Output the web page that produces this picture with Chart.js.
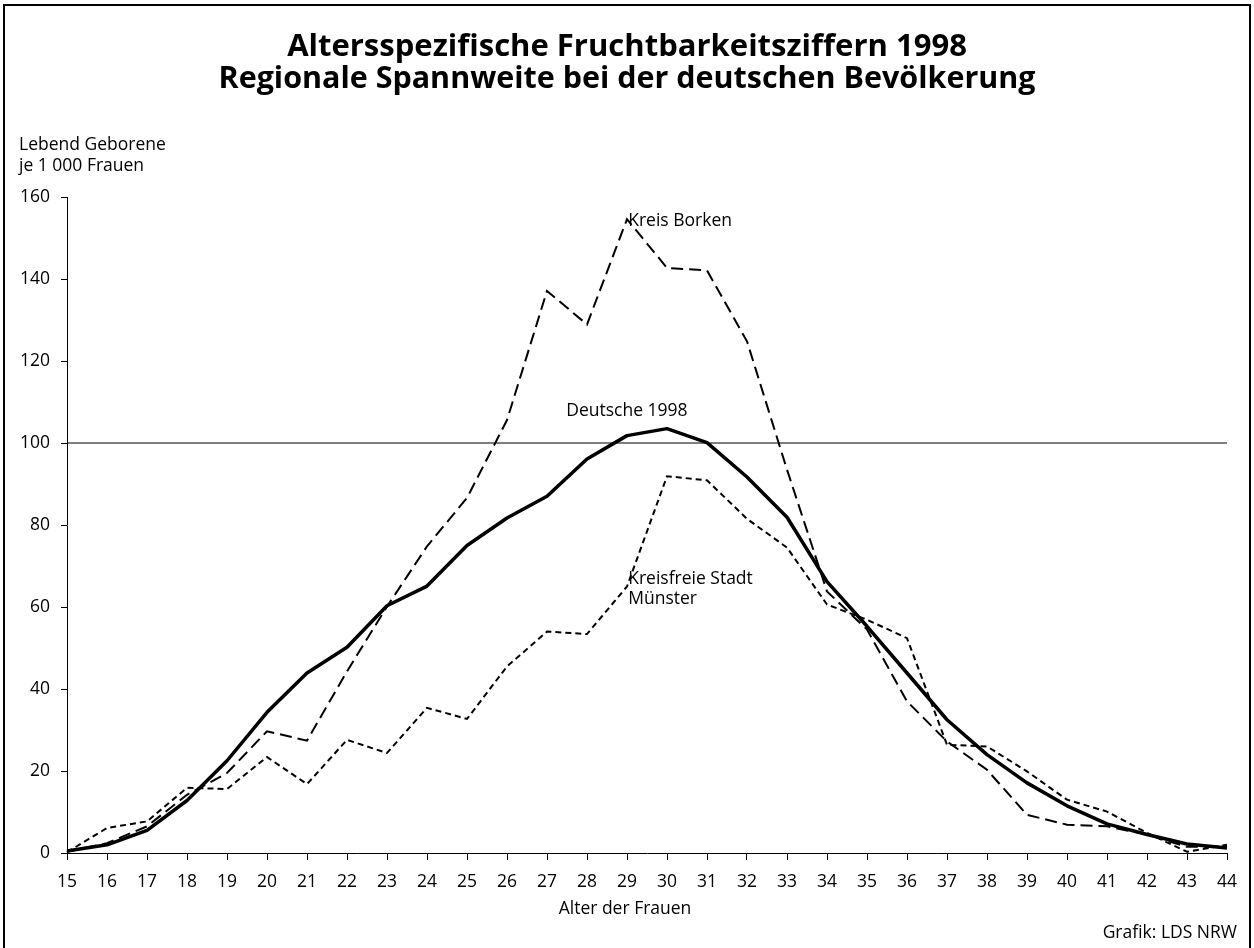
<!DOCTYPE html>
<html>
<head>
<meta charset="utf-8">
<script src="https://cdn.jsdelivr.net/npm/chart.js@4/dist/chart.umd.min.js"></script>
<style>
  html, body { margin: 0; padding: 0; background: #fff; }
  #wrap { width: 1254px; height: 948px; }
</style>
</head>
<body>
<div id="wrap"><canvas id="c" width="1254" height="948"></canvas></div>
<script>
// Alter der Frauen (15 bis 44)
const ages = ['15','16','17','18','19','20','21','22','23','24','25','26','27','28','29',
              '30','31','32','33','34','35','36','37','38','39','40','41','42','43','44'];

// Lebend Geborene je 1 000 Frauen
const deutsche = [0.5, 2.0, 5.5, 12.8, 22.5, 34.3, 43.9, 50.2, 60.3, 65.1, 75.0, 81.7, 87.0, 96.1, 101.8,
                  103.5, 100.1, 91.7, 81.9, 66.2, 55.3, 43.9, 32.5, 24.0, 17.1, 11.5, 7.1, 4.5, 2.2, 1.2];
const borken = [0.3, 2.4, 6.5, 14.2, 19.5, 29.7, 27.4, 44.3, 60.1, 74.8, 86.6, 105.6, 137.1, 128.9, 154.6,
                142.7, 142.1, 124.8, 93.5, 63.8, 54.5, 37.0, 27.2, 20.3, 9.3, 6.9, 6.5, 4.5, 1.5, 1.6];
const muenster = [0.2, 6.1, 7.7, 15.9, 15.6, 23.4, 16.8, 27.6, 24.4, 35.4, 32.7, 45.5, 54.0, 53.4, 65.0,
                  91.9, 90.9, 81.5, 74.5, 60.6, 56.9, 52.4, 26.4, 26.0, 19.9, 13.0, 10.1, 4.9, 0.3, 2.0];
const referenz = ages.map(() => 100);

const yTicks = [0, 20, 40, 60, 80, 100, 120, 140, 160];

const FONT = '"Open Sans", "Noto Sans", sans-serif';
const TXT = 17.5;

// Beschriftungen im Diagramm: [Text, Altersindex, Wert]
const labels = [
  ['Kreis Borken', 14.03, 153],
  ['Deutsche 1998', 12.48, 106.7],
  ['Kreisfreie Stadt', 14.03, 65.7],
  ['Münster', 14.03, 60.8]
];

// Schriftgroesse so waehlen, dass der Text eine bestimmte Breite hat
function fitFont(ctx, text, width, weight) {
  ctx.font = weight + ' 28px ' + FONT;
  const w = ctx.measureText(text).width;
  return weight + ' ' + (28 * width / w).toFixed(2) + 'px ' + FONT;
}

const textPlugin = {
  id: 'texte',
  afterDraw(chart) {
    const ctx = chart.ctx;
    const xs = chart.scales.x, ys = chart.scales.y;
    ctx.save();
    ctx.fillStyle = '#000';

    // Titel
    ctx.textAlign = 'center';
    ctx.textBaseline = 'alphabetic';
    const t1 = 'Altersspezifische Fruchtbarkeitsziffern 1998';
    const t2 = 'Regionale Spannweite bei der deutschen Bevölkerung';
    ctx.font = fitFont(ctx, t1, 680, 'bold');
    ctx.fillText(t1, 627, 56);
    ctx.font = fitFont(ctx, t2, 817, 'bold');
    ctx.fillText(t2, 627, 88);

    // Achsentitel
    ctx.font = TXT + 'px ' + FONT;
    ctx.textAlign = 'left';
    ctx.fillText('Lebend Geborene', 19, 150);
    ctx.fillText('je 1 000 Frauen', 19, 171);
    ctx.textAlign = 'center';
    ctx.fillText('Alter der Frauen', 625, 914);
    ctx.textAlign = 'right';
    ctx.fillText('Grafik: LDS NRW', 1237, 938);

    // Linienbeschriftungen
    ctx.textAlign = 'left';
    labels.forEach(([t, i, v]) => {
      ctx.fillText(t, xs.getPixelForValue(i), ys.getPixelForValue(v));
    });

    // Rahmen
    ctx.lineWidth = 2;
    ctx.strokeStyle = '#000';
    ctx.strokeRect(4, 5, 1246, 960);
    ctx.restore();
  }
};

new Chart(document.getElementById('c'), {
  type: 'line',
  data: {
    labels: ages,
    datasets: [
      { label: 'Referenz', data: referenz, borderColor: '#000', borderWidth: 1, pointRadius: 0 },
      { label: 'Kreisfreie Stadt Münster', data: muenster, borderColor: '#000', borderWidth: 2,
        borderDash: [6, 4], pointRadius: 0, tension: 0 },
      { label: 'Kreis Borken', data: borken, borderColor: '#000', borderWidth: 2,
        borderDash: [12, 6], pointRadius: 0, tension: 0 },
      { label: 'Deutsche 1998', data: deutsche, borderColor: '#000', borderWidth: 3.5,
        pointRadius: 0, tension: 0, borderJoinStyle: 'round' }
    ]
  },
  options: {
    responsive: false,
    animation: false,
    devicePixelRatio: 1,
    layout: { padding: { left: 0, right: 27, top: 197, bottom: 55 } },
    plugins: { legend: { display: false }, tooltip: { enabled: false }, title: { display: false } },
    scales: {
      x: {
        offset: false,
        grid: { display: true, drawOnChartArea: false, drawTicks: true, tickLength: 7, color: '#000' },
        border: { display: true, color: '#000', width: 1 },
        ticks: { color: '#000', font: { family: FONT, size: TXT }, maxRotation: 0, autoSkip: false, padding: 12 },
        afterFit(s) { s.height = 40; }
      },
      y: {
        min: 0, max: 160,
        afterBuildTicks(s) { s.ticks = yTicks.map(v => ({ value: v })); },
        grid: { display: true, drawOnChartArea: false, drawTicks: true, tickLength: 6, color: '#000' },
        border: { display: true, color: '#000', width: 1 },
        ticks: { color: '#000', font: { family: FONT, size: TXT }, padding: 11 },
        afterFit(s) { s.width = 67; }
      }
    }
  },
  plugins: [textPlugin]
});
</script>
</body>
</html>
